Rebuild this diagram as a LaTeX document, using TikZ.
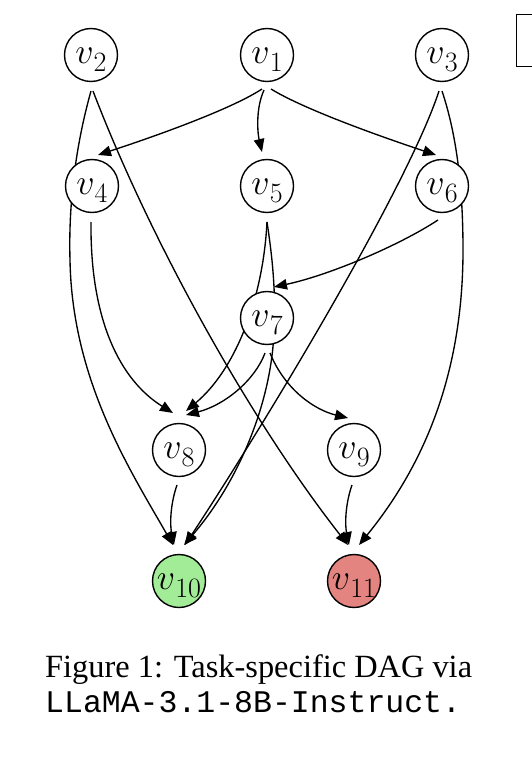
\RequirePackage{fix-cm}
\documentclass[tikz,border=0pt]{standalone}
\usepackage{fontspec}
\setmainfont{Liberation Serif}
\setmonofont{Liberation Mono}
\newcommand{\vlab}[1]{$v$\raisebox{-8pt}{\fontsize{28}{30}\selectfont$#1$}}
\usetikzlibrary{arrows.meta,calc,backgrounds}
\definecolor{nodegreen}{RGB}{163,236,151}
\definecolor{nodered}{RGB}{227,132,128}
\begin{document}
\begin{tikzpicture}[x=1pt,y=-1pt,
  vnode/.style={circle, draw, line width=1.4pt, minimum size=53pt, inner sep=0pt, fill=white,
    font=\fontsize{36}{40}\selectfont, text height=21pt, text depth=4pt},
  edge/.style={line width=1.35pt, -{Triangle[length=13pt,width=10.5pt]}},
  captext/.style={anchor=base west, inner sep=0pt, font=\fontsize{32.4}{36}\selectfont}]
\useasboundingbox (0,0) rectangle (531,759);
% nodes
\node[vnode] (v1) at (267,55) {\vlab{1}};
\node[vnode] (v2) at (91,55) {\vlab{2}};
\node[vnode] (v3) at (442,55) {\vlab{3}};
\node[vnode] (v4) at (92,186) {\vlab{4}};
\node[vnode] (v5) at (267,186) {\vlab{5}};
\node[vnode] (v6) at (442,186) {\vlab{6}};
\node[vnode] (v7) at (267,318) {\vlab{7}};
\node[vnode] (v8) at (179,450) {\vlab{8}};
\node[vnode] (v9) at (354,450) {\vlab{9}};
\node[vnode, fill=nodegreen] (v10) at (179,581) {\vlab{10}};
\node[vnode, fill=nodered] (v11) at (354,581) {\vlab{11}};
% edges behind nodes
\begin{scope}[on background layer]
\draw[edge] ($(v1)+(-5,34)$) .. controls (230,110) and (150,138) .. ($(v4)+(6,-31)$);
\draw[edge] ($(v1)+(-3,35)$) .. controls (255,110) and (258,135) .. ($(v5)+(-5,-34)$);
\draw[edge] ($(v1)+(4,34)$) .. controls (305,110) and (385,138) .. ($(v6)+(-6,-31)$);
% v2 -> v10 (through v4)
\draw[edge] ($(v2)+(0,36)$) .. controls (80,130) and (68,190) .. (70,260)
   .. controls (72,380) and (130,470) .. ($(v10)+(-6,-36)$);
% v2 -> v11
\draw[edge] ($(v2)+(2,36)$) .. controls (150,240) and (250,420) .. ($(v11)+(-6,-36)$);
% v3 -> v10
\draw[edge] ($(v3)+(-3,36)$) .. controls (410,180) and (280,400) .. ($(v10)+(6,-36)$);
% v3 -> v11 (through v6)
\draw[edge] ($(v3)+(0,36)$) .. controls (455,130) and (463,180) .. (463,250)
   .. controls (463,380) and (420,470) .. ($(v11)+(5,-36)$);
% v4 -> v8
\draw[edge] ($(v4)+(-1,36)$) .. controls (90,320) and (120,380) .. ($(v8)+(-6,-37)$);
% v5 -> v8 (through v7)
\draw[edge] ($(v5)+(0,36)$) .. controls (263,300) and (235,370) .. ($(v8)+(7,-39)$);
% v7 -> v8
\draw[edge] ($(v7)+(-2,35)$) .. controls (255,380) and (225,405) .. ($(v8)+(7,-35)$);
% v5 -> v10 (through v7)
\draw[edge] ($(v5)+(0,36)$) .. controls (272,255) and (276,290) .. (274,330)
   .. controls (272,400) and (240,480) .. ($(v10)+(5,-36)$);
% v7 -> v9
\draw[edge] ($(v7)+(3,35)$) .. controls (285,390) and (315,410) .. ($(v9)+(-6,-32)$);
% v6 -> v7
\draw[edge] ($(v6)+(-4,34)$) .. controls (400,245) and (330,275) .. ($(v7)+(7,-31)$);
% v8 -> v10
\draw[edge] ($(v8)+(-2,35)$) .. controls (170,505) and (170,525) .. ($(v10)+(-5,-36)$);
% v9 -> v11
\draw[edge] ($(v9)+(-2,35)$) .. controls (345,505) and (345,525) .. ($(v11)+(-5,-36)$);
\end{scope}
% partial box at top right
\draw[line width=1pt] (545,15) -- (516,15) -- (516,67) -- (545,67);
% caption
\node[captext] (cap1) at (45,677) {Figure 1: Task-specific DAG via};
\node[captext, font=\fontsize{31.5}{35}\selectfont\ttfamily] (cap2) at (45,712) {LLaMA-3.1-8B-Instruct.};
\end{tikzpicture}
\end{document}
